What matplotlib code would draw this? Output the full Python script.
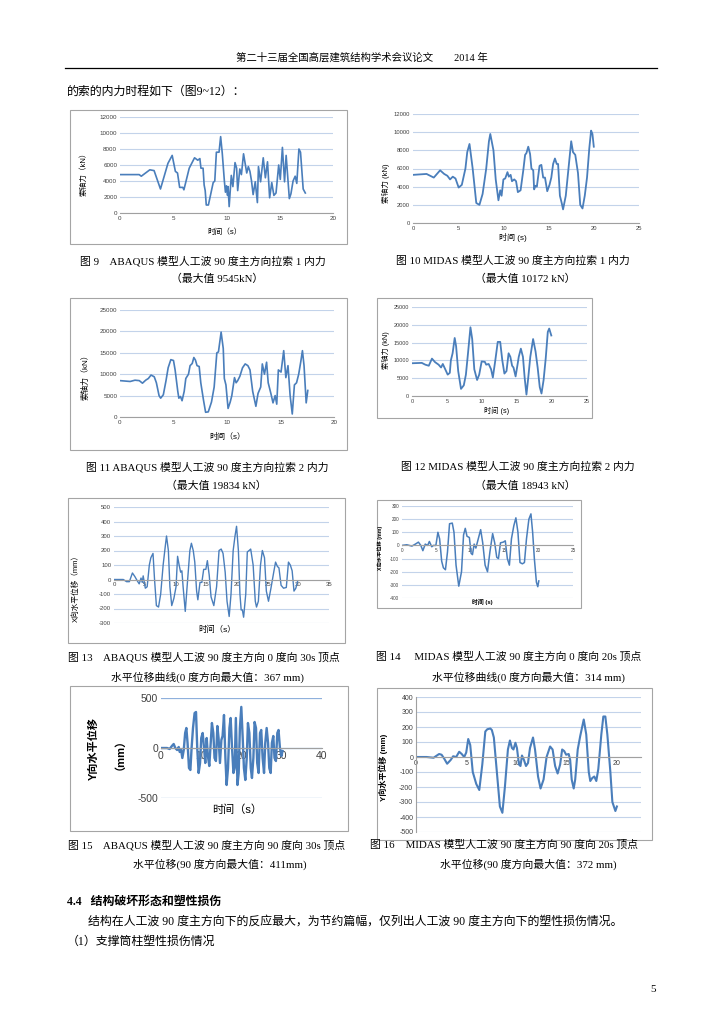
import matplotlib
matplotlib.use('Agg')
import matplotlib.pyplot as plt
from matplotlib.patches import Rectangle
from matplotlib.lines import Line2D

# ---- 数据----
# 图9 ABAQUS 拉索1 内力 (kN)
t9 = [0, 1.8, 2.0, 2.8, 3.2, 3.8, 4.5, 4.9, 5.2, 5.4, 5.6, 5.9, 6.0, 6.5, 7.0, 7.3, 7.5, 7.6, 7.8, 7.9,
      8.0, 8.1, 8.3, 8.75, 8.9, 9.05, 9.3, 9.45, 9.6, 9.8, 9.9, 10.0, 10.1, 10.15, 10.25, 10.45, 10.6,
      10.8, 10.95, 11.05, 11.25, 11.4, 11.6, 11.9, 12.05, 12.2, 12.35, 12.5, 12.7, 12.9, 13.0, 13.2,
      13.45, 13.65, 13.85, 14.05, 14.25, 14.45, 14.65, 14.9, 15.05, 15.25, 15.45, 15.6, 15.9, 16.05,
      16.25, 16.45, 16.6, 16.8, 16.95, 17.2, 17.4]
f9 = [4800, 4800, 4600, 5400, 5300, 3000, 6200, 7200, 5200, 5000, 3200, 3200, 2900, 5600, 6900, 6600,
      6800, 5600, 5600, 3500, 2800, 1000, 1000, 3800, 4000, 7600, 7600, 9545, 7500, 4000, 2600, 3400,
      2200, 3300, 800, 4700, 3300, 6300, 5600, 2800, 5500, 4800, 7400, 5000, 5800, 5200, 4000, 2300,
      3900, 1300, 5800, 3900, 6900, 4400, 6400, 1900, 3800, 2200, 2500, 6000, 4200, 8200, 3900, 7200,
      1800, 2400, 4000, 4600, 3700, 8000, 7600, 3000, 2500]

# 图10 MIDAS 拉索1 内力 (kN)
t10 = [0, 1.5, 2.3, 3.0, 3.45, 3.8, 4.1, 4.4, 4.7, 5.05, 5.4, 5.8, 6.0, 6.25, 6.6, 7.0, 7.35, 7.7, 8.1,
       8.4, 8.55, 8.9, 9.15, 9.45, 9.65, 9.8, 10.0, 10.2, 10.45, 10.6, 10.8, 10.95, 11.2, 11.4, 11.6,
       11.9, 12.2, 12.4, 12.55, 12.75, 12.95, 13.1, 13.3, 13.4, 13.55, 13.7, 14.0, 14.2, 14.4, 14.6,
       14.85, 15.1, 15.3, 15.5, 15.7, 15.9, 16.05, 16.25, 16.45, 16.6, 16.9, 17.2, 17.5, 17.7, 17.95,
       18.25, 18.5, 18.75, 19.0, 19.25, 19.5, 19.7, 19.85, 20.0]
f10 = [5300, 5400, 5000, 5800, 5400, 5200, 4800, 5100, 4900, 3900, 4200, 6000, 7800, 8700, 6000, 2200,
       2000, 3200, 6000, 9000, 9800, 8000, 4800, 2500, 3600, 3000, 4800, 4900, 5600, 5100, 5300, 4600,
       4800, 4600, 3400, 3600, 5800, 7500, 7700, 8400, 7600, 6000, 5800, 3700, 4100, 4000, 6300, 6400,
       5000, 5000, 3500, 4200, 5000, 6500, 7100, 6500, 6500, 3000, 2200, 1500, 3000, 6000, 9000, 7800,
       7500, 5500, 2000, 1600, 3000, 5000, 8200, 10172, 9800, 8400]

# 图11 ABAQUS 拉索2 内力 (kN)
t11 = [0, 0.95, 1.4, 1.8, 2.1, 2.4, 2.65, 2.9, 3.2, 3.4, 3.65, 3.8, 4.05, 4.3, 4.5, 4.75, 5.0, 5.15,
       5.4, 5.5, 5.65, 5.8, 6.0, 6.15, 6.4, 6.55, 6.75, 6.9, 7.05, 7.2, 7.4, 7.55, 7.8, 8.0, 8.25, 8.55,
       8.8, 9.05, 9.2, 9.45, 9.65, 9.75, 9.9, 10.1, 10.3, 10.45, 10.7, 10.85, 11.0, 11.2, 11.45, 11.7,
       11.95, 12.15, 12.4, 12.7, 12.9, 13.15, 13.3, 13.5, 13.7, 13.85, 14.1, 14.3, 14.5, 14.65, 14.8,
       15.05, 15.3, 15.5, 15.7, 15.9, 16.1, 16.3, 16.5, 16.7, 16.9, 17.05, 17.2, 17.4, 17.55]
f11 = [8500, 8300, 8600, 8500, 7900, 8600, 9000, 9800, 9400, 8000, 5000, 4400, 5200, 8500, 11500, 13400,
       13200, 11000, 6000, 4400, 4800, 3800, 6000, 9000, 10000, 12000, 12500, 13900, 13300, 12000, 11800,
       8000, 4000, 1100, 1200, 3500, 7000, 15000, 15200, 19834, 16000, 9000, 7500, 2000, 3500, 5000,
       9200, 8000, 8500, 9500, 11500, 12400, 12000, 11000, 6000, 2500, 5500, 7000, 12400, 10000, 12800,
       8000, 5500, 3300, 5000, 3000, 11000, 10500, 15500, 9200, 12000, 5000, 700, 7500, 8000, 10000,
       13000, 15500, 12000, 3300, 6200]

# 图12 MIDAS 拉索2 内力 (kN)
t12 = [0, 1.4, 1.9, 2.4, 2.85, 3.3, 3.8, 4.15, 4.4, 4.75, 5.1, 5.4, 5.55, 5.8, 6.1, 6.3, 6.6, 7.0, 7.4,
       7.7, 8.0, 8.35, 8.6, 8.9, 9.3, 9.6, 9.95, 10.4, 10.6, 10.95, 11.3, 11.55, 11.9, 12.25, 12.6, 12.9,
       13.2, 13.5, 13.8, 14.05, 14.3, 14.5, 14.8, 15.05, 15.25, 15.55, 15.85, 16.1, 16.35, 16.6, 16.9,
       17.3, 17.65, 17.95, 18.25, 18.5, 18.8, 19.1, 19.4, 19.6, 19.9]
f12 = [9200, 9300, 8800, 8500, 10500, 9500, 8800, 8000, 9000, 7500, 6000, 6500, 10000, 12000, 16300,
       14000, 7000, 2000, 3000, 6000, 12000, 19300, 16000, 7500, 4500, 6000, 9700, 9600, 8800, 9000,
       7500, 5200, 10000, 15200, 15200, 10000, 6300, 7000, 12000, 11000, 8500, 8000, 5500, 8500, 11000,
       13300, 11000, 5000, 400, 5000, 11000, 16000, 12500, 8000, 2500, 700, 4500, 10500, 18000, 18943,
       17000]

# 图13 ABAQUS 0度向 顶点位移 (mm)
t13 = [0, 1.5, 2.05, 2.5, 3.0, 3.4, 3.8, 4.1, 4.4, 4.6, 4.75, 5.1, 5.4, 5.75, 6.0, 6.35, 6.6, 6.9, 7.25,
       7.6, 8.0, 8.35, 8.55, 8.85, 9.1, 9.4, 9.75, 10.1, 10.35, 10.6, 10.85, 11.05, 11.25, 11.6, 11.9,
       12.35, 12.6, 12.9, 13.15, 13.45, 13.65, 14.0, 14.3, 14.6, 14.95, 15.2, 15.5, 15.8, 16.25, 16.7,
       17.1, 17.45, 17.75, 18.1, 18.4, 18.75, 19.05, 19.4, 19.7, 19.95, 20.25, 20.5, 20.7, 20.9, 21.1,
       21.45, 21.7, 22.0, 22.25, 22.65, 23.0, 23.2, 23.5, 23.85, 24.15, 24.5, 24.8, 25.15, 25.55, 26.0,
       26.3, 26.6, 26.85, 27.2, 27.6, 28.05, 28.4, 28.7, 29.0, 29.3, 29.6, 29.9]
d13 = [0, 0, -15, -15, 45, 20, -10, -30, 10, -20, 25, -60, -50, 100, 150, 180, 0, -180, -190, -100, 100,
       230, 300, 200, -50, -180, -130, -50, 160, 100, 50, 60, -50, -220, -50, 200, 250, 200, 120, -80,
       -140, -20, -20, 70, 70, 130, 30, -120, -180, -50, 200, 210, 180, 50, -150, -255, -100, 200, 300,
       367, 200, -100, -210, -210, -260, -100, 190, 200, 210, 100, -150, -190, -150, 100, 200, 150, -80,
       -150, -60, 50, 120, 90, 80, -40, -60, -55, 120, 100, 60, -80, -60, -10]

# 图14 MIDAS 0度向 顶点位移 (mm)
t14 = [0, 0.7, 1.45, 1.95, 2.4, 2.75, 3.05, 3.4, 3.75, 4.0, 4.35, 4.6, 4.95, 5.25, 5.5, 5.8, 6.05, 6.35,
       6.65, 6.95, 7.35, 7.6, 7.9, 8.3, 8.7, 9.0, 9.25, 9.5, 9.85, 10.1, 10.3, 10.55, 10.8, 11.15, 11.5,
       11.8, 12.15, 12.5, 12.85, 13.25, 13.55, 13.85, 14.1, 14.4, 14.8, 15.1, 15.4, 15.7, 16.0, 16.35,
       16.65, 16.95, 17.25, 17.6, 17.9, 18.2, 18.55, 18.85, 19.1, 19.35, 19.65, 19.85, 20.0]
d14 = [0, 5, -5, 10, 25, 0, -40, 10, 0, 30, -10, 0, 0, 100, 50, -120, -170, -185, -50, 165, 170, 100,
       -150, -310, -200, 80, 130, 70, 60, -60, -70, 10, -20, 50, 120, 20, -150, -200, -50, 90, 20, -90,
       -100, 20, 25, 35, -100, -150, 50, 150, 210, 100, -130, -140, -130, 50, 200, 240, 100, -100, -280,
       -314, -270]

# 图15 ABAQUS 90度向 顶点位移 (mm)
t15 = [0, 1.5, 2.15, 2.7, 3.15, 3.55, 4.0, 4.4, 4.65, 5.0, 5.3, 5.65, 6.0, 6.3, 6.6, 6.95, 7.3, 7.6,
       7.95, 8.35, 8.7, 9.0, 9.35, 9.7, 10.0, 10.35, 10.7, 11.0, 11.35, 11.65, 12.0, 12.35, 12.65, 13.0,
       13.3, 13.65, 14.0, 14.3, 14.65, 15.0, 15.3, 15.65, 16.0, 16.3, 16.65, 17.0, 17.3, 17.65, 18.0,
       18.3, 18.6, 19.0, 19.3, 19.6, 19.95, 20.3, 20.6, 20.95, 21.3, 21.6, 21.95, 22.3, 22.6, 22.95,
       23.25, 23.6, 23.9, 24.25, 24.6, 24.9, 25.25, 25.6, 25.9, 26.25, 26.6, 26.9, 27.25, 27.55, 27.9,
       28.2, 28.55, 28.9, 29.2, 29.55, 29.9, 30.2]
d15 = [0, 0, -10, 20, 40, 0, -20, 10, -40, -20, -100, -20, 150, 200, 50, -200, -220, 0, 200, 350, 360,
       0, -250, -150, 100, 150, 0, -150, 100, -80, -180, 50, 250, 150, -100, -130, 220, 100, -150, 80,
       120, 330, -100, -370, -200, 200, 300, 0, -250, -200, 300, -370, -250, 200, 411, 100, -200, -320,
       -100, 250, 150, -200, -300, -100, 260, 200, -150, -250, 150, 180, -100, -250, 50, 200, 50, -200,
       -250, 50, 120, -100, -130, 150, 180, 0, -80, -30]

# 图16 MIDAS 90度向 顶点位移 (mm)
t16 = [0, 1.05, 1.75, 2.3, 2.55, 2.8, 3.1, 3.45, 3.7, 4.0, 4.3, 4.55, 4.8, 5.0, 5.2, 5.4, 5.65, 6.0,
       6.3, 6.6, 6.9, 7.1, 7.4, 7.55, 7.75, 8.05, 8.35, 8.6, 8.85, 9.15, 9.35, 9.55, 9.7, 9.9, 10.05,
       10.25, 10.4, 10.55, 10.75, 10.95, 11.15, 11.35, 11.65, 11.85, 12.15, 12.4, 12.7, 13.0, 13.35,
       13.6, 13.85, 14.1, 14.35, 14.55, 14.75, 14.95, 15.2, 15.35, 15.5, 15.7, 15.85, 16.1, 16.35, 16.7,
       16.95, 17.2, 17.35, 17.55, 17.75, 17.95, 18.15, 18.45, 18.65, 18.85, 19.05, 19.35, 19.55, 19.85,
       20.0]
d16 = [0, 0, -5, 20, 15, -10, -45, -20, 5, 0, 35, 20, 0, 30, 120, 80, -100, -180, -220, -50, 170, 185,
       190, 180, 130, -100, -330, -372, -200, 50, 110, 60, 50, 95, 60, -50, -60, 10, -20, -60, -40, 60,
       130, 50, -130, -210, -150, 0, 70, 50, -60, -110, -50, 50, 40, 15, 20, -20, -150, -210, -150, 50,
       140, 250, 150, -100, -160, -140, -130, -160, -80, 150, 270, 270, 150, -100, -300, -360, -330]

W, H = 724, 1024
SERIF = ['Liberation Serif', 'Noto Sans CJK SC']
SANS = ['Liberation Sans', 'Noto Sans CJK SC']
plt.rcParams['font.family'] = SANS
plt.rcParams['axes.unicode_minus'] = False
BLUE = '#4a7ebb'
GRID = '#c3d3ea'

fig = plt.figure(figsize=(7.24, 10.24), dpi=100)


def px_axes(x0, y0, x1, y1):
    return fig.add_axes([x0 / W, 1 - y1 / H, (x1 - x0) / W, (y1 - y0) / H])


def box(x0, y0, x1, y1, c='#a5a5a5'):
    fig.add_artist(Rectangle((x0 / W, 1 - y1 / H), (x1 - x0) / W, (y1 - y0) / H,
                             transform=fig.transFigure, fill=False, ec=c, lw=0.8))


def txt(x, y, s, size=8, ha='left', family=SERIF, **kw):
    fig.text(x / W, 1 - y / H, s, fontsize=size, ha=ha, va='center', family=family, **kw)


def style(ax, xlim, ylim, xticks, yticks, fs, zero=False, left=False):
    ax.set_xlim(xlim)
    ax.set_ylim(ylim)
    ax.set_xticks(xticks)
    ax.set_yticks(yticks)
    ax.yaxis.grid(True, color=GRID, lw=0.8)
    ax.set_axisbelow(True)
    for s in ['top', 'right', 'left']:
        ax.spines[s].set_visible(False)
    if left:
        ax.spines['left'].set_visible(True)
        ax.spines['left'].set_color('#a0a0a0')
    ax.spines['bottom'].set_color('#a0a0a0')
    if zero:
        ax.spines['bottom'].set_position(('data', 0))
    ax.tick_params(length=0, labelsize=fs, colors='#404040', pad=2)
    ax.patch.set_alpha(0)


# ---- 页眉 ----
txt(362, 57, '第二十三届全国高层建筑结构学术会议论文        2014 年', size=7.5, ha='center')
fig.add_artist(Line2D([65 / W, 657 / W], [1 - 68 / H, 1 - 68 / H], color='black', lw=0.9))
txt(67, 92, '的索的内力时程如下（图9~12）：', size=8.6)

# ---- 图9 ----
box(70, 110, 347, 244)
ax = px_axes(120, 117, 333, 213)
ax.plot(t9, f9, color=BLUE, lw=1.2)
style(ax, (0, 20), (0, 12000), range(0, 21, 5), range(0, 12001, 2000), 4.5)
txt(84, 172, '索轴力（kN）', size=5.5, family=SANS, rotation=90, ha='center')
txt(225, 232, '时间（s）', size=5.5, family=SANS, ha='center')

# ---- 图10 ----
ax = px_axes(413, 114, 639, 223)
ax.plot(t10, f10, color=BLUE, lw=1.3)
style(ax, (0, 25), (0, 12000), range(0, 26, 5), range(0, 12001, 2000), 4.2)
txt(386, 183, '索轴力 (kN)', size=5.5, family=SANS, rotation=90, ha='center')
txt(513, 237, '时间 (s)', size=5.8, family=SANS, ha='center')

# ---- 图11 ----
box(70, 298, 347, 450)
ax = px_axes(120, 310, 334, 417)
ax.plot(t11, f11, color=BLUE, lw=1.2)
style(ax, (0, 20), (0, 25000), range(0, 21, 5), range(0, 25001, 5000), 4.5)
txt(85, 375, '索轴力（kN）', size=5.8, family=SANS, rotation=90, ha='center')
txt(227, 437, '时间（s）', size=5.8, family=SANS, ha='center')

# ---- 图12 ----
box(377, 298, 592, 418)
ax = px_axes(412, 307, 587, 396)
ax.plot(t12, f12, color=BLUE, lw=1.3)
style(ax, (0, 25), (0, 25000), range(0, 26, 5), range(0, 25001, 5000), 4.0)
txt(386, 350, '索轴力 (kN)', size=5.2, family=SANS, rotation=90, ha='center')
txt(497, 411, '时间 (s)', size=5.2, family=SANS, ha='center')

# ---- 图13 ----
box(68, 498, 345, 643)
ax = px_axes(114, 507, 329, 623)
ax.plot(t13, d13, color=BLUE, lw=1.0)
style(ax, (0, 35), (-300, 500), range(0, 36, 5), range(-300, 501, 100), 4.3, zero=True)
txt(76, 587, 'X向水平位移（mm）', size=5.5, family=SANS, rotation=90, ha='center')
txt(217, 630, '时间（s）', size=6, family=SANS, ha='center')

# ---- 图14 ----
box(377, 500, 581, 608)
ax = px_axes(402, 506, 573, 598)
ax.plot(t14, d14, color=BLUE, lw=1.1)
style(ax, (0, 25), (-400, 300), range(0, 26, 5), range(-400, 301, 100), 3.3, zero=True)
txt(380, 548, 'X向水平位移 (mm)', size=3.8, family=SANS, rotation=90, ha='center', weight='bold')
txt(482, 602, '时间 (s)', size=4.2, family=SANS, ha='center', weight='bold')

# ---- 图15 ----
box(70, 686, 348, 831)
ax = px_axes(161, 698, 322, 798)
ax.plot(t15, d15, color=BLUE, lw=1.7)
style(ax, (0, 40), (-500, 500), range(0, 41, 10), [-500, 0, 500], 7.5, zero=True)
ax.yaxis.grid(True, color='#8fb0dc', lw=0.9)
txt(94, 749, 'Y向水平位移', size=8, family=SANS, rotation=90, ha='center', weight='bold')
txt(114, 749, '（mm）', size=8, family=SANS, rotation=90, ha='center', weight='bold')
txt(237, 810, '时间（s）', size=8, family=SANS, ha='center')

# ---- 图16 ----
box(377, 688, 652, 840)
ax = px_axes(416, 697, 641, 832)
ax.plot(t16, d16, color=BLUE, lw=1.5)
style(ax, (0, 22.4), (-500, 400), range(0, 21, 5), range(-500, 401, 100), 5.0, zero=True, left=True)
txt(383, 767, 'Y向水平位移 (mm)', size=5.8, family=SANS, rotation=90, ha='center', weight='bold')

# ---- 图题 ----
cap = 7.8
txt(80, 261, '图 9    ABAQUS 模型人工波 90 度主方向拉索 1 内力', size=cap)
txt(217, 279, '（最大值 9545kN）', size=cap, ha='center')
txt(396, 261, '图 10 MIDAS 模型人工波 90 度主方向拉索 1 内力', size=cap)
txt(525, 279, '（最大值 10172 kN）', size=cap, ha='center')
txt(86, 467, '图 11 ABAQUS 模型人工波 90 度主方向拉索 2 内力', size=cap)
txt(216, 486, '（最大值 19834 kN）', size=cap, ha='center')
txt(401, 467, '图 12 MIDAS 模型人工波 90 度主方向拉索 2 内力', size=cap)
txt(525, 486, '（最大值 18943 kN）', size=cap, ha='center')
txt(68, 657, '图 13    ABAQUS 模型人工波 90 度主方向 0 度向 30s 顶点', size=cap)
txt(207, 677, '水平位移曲线(0 度方向最大值：367 mm)', size=cap, ha='center')
txt(376, 657, '图 14     MIDAS 模型人工波 90 度主方向 0 度向 20s 顶点', size=cap)
txt(528, 677, '水平位移曲线(0 度方向最大值：314 mm)', size=cap, ha='center')
txt(68, 845, '图 15    ABAQUS 模型人工波 90 度主方向 90 度向 30s 顶点', size=cap)
txt(220, 864, '水平位移(90 度方向最大值：411mm)', size=cap, ha='center')
txt(370, 845, '图 16    MIDAS 模型人工波 90 度主方向 90 度向 20s 顶点', size=cap)
txt(528, 864, '水平位移(90 度方向最大值：372 mm)', size=cap, ha='center')

# ---- 正文 ----
txt(67, 902, '4.4   结构破坏形态和塑性损伤', size=8.6, weight='bold')
txt(88, 922, '结构在人工波 90 度主方向下的反应最大，为节约篇幅，仅列出人工波 90 度主方向下的塑性损伤情况。', size=8.6)
txt(67, 942, '（1）支撑筒柱塑性损伤情况', size=8.6)
txt(650, 990, '5', size=8)

fig.savefig('out.png', dpi=100, facecolor='white')
